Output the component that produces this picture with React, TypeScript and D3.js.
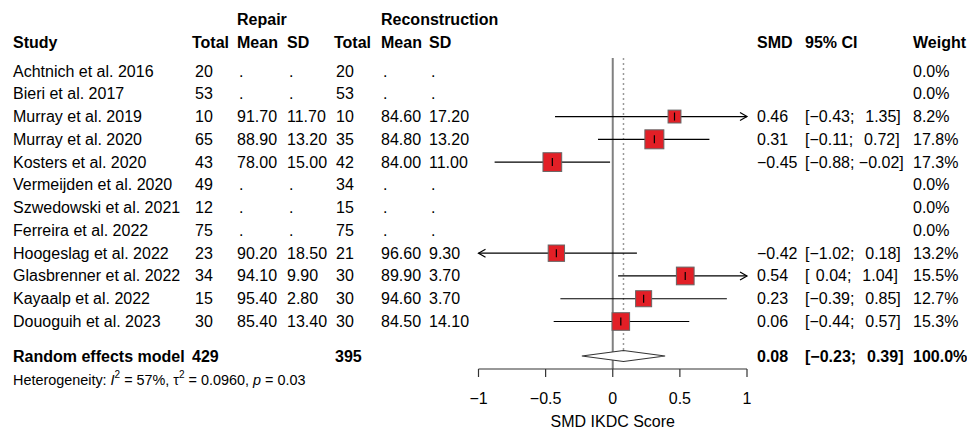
import * as d3 from "d3";
import React from "react";

// study rows
const studies = [
  "Achtnich et al. 2016",
  "Bieri et al. 2017",
  "Murray et al. 2019",
  "Murray et al. 2020",
  "Kosters et al. 2020",
  "Vermeijden et al. 2020",
  "Szwedowski et al. 2021",
  "Ferreira et al. 2022",
  "Hoogeslag et al. 2022",
  "Glasbrenner et al. 2022",
  "Kayaalp et al. 2022",
  "Douoguih et al. 2023",
];
const repairTotal = [20, 53, 10, 65, 43, 49, 12, 75, 23, 34, 15, 30];
const repairMean = [null, null, 91.7, 88.9, 78.0, null, null, null, 90.2, 94.1, 95.4, 85.4];
const repairSD = [null, null, 11.7, 13.2, 15.0, null, null, null, 18.5, 9.9, 2.8, 13.4];
const reconTotal = [20, 53, 10, 35, 42, 34, 15, 75, 21, 30, 30, 30];
const reconMean = [null, null, 84.6, 84.8, 84.0, null, null, null, 96.6, 89.9, 94.6, 84.5];
const reconSD = [null, null, 17.2, 13.2, 11.0, null, null, null, 9.3, 3.7, 3.7, 14.1];
const smd = [null, null, 0.46, 0.31, -0.45, null, null, null, -0.42, 0.54, 0.23, 0.06];
const ciLow = [null, null, -0.43, -0.11, -0.88, null, null, null, -1.02, 0.04, -0.39, -0.44];
const ciHigh = [null, null, 1.35, 0.72, -0.02, null, null, null, 0.18, 1.04, 0.85, 0.57];
const weight = [0, 0, 8.2, 17.8, 17.3, 0, 0, 0, 13.2, 15.5, 12.7, 15.3];

// pooled
const pooled = { label: "Random effects model", repairN: 429, reconN: 395, est: 0.08, lo: -0.23, hi: 0.39, w: 100.0 };
const axisTicks = [-1, -0.5, 0, 0.5, 1];

const font = "'Liberation Sans', Arial, Helvetica, sans-serif";
const minus = (s: string) => s.replace(/-/g, "\u2212");
const f2 = (v: number | null) => (v == null ? "." : v.toFixed(2));
const pad = (v: number) => (v < 0 ? minus(v.toFixed(2)) : "\u2009\u2009" + v.toFixed(2));
const ci = (lo: number, hi: number) => "[" + pad(lo) + "; " + pad(hi) + "]";

export default function App() {
  const width = 967;
  const height = 430;

  const x = d3.scaleLinear().domain([-1, 1]).range([478.5, 747]);
  const y = d3.scaleLinear().domain([0, 11]).range([71, 321.5]);
  const yPool = 356;
  const axisY = 369;
  const lineTop = 58;

  const col = { study: 13, rT: 195, rM: 237, rS: 287, cT: 336, cM: 381, cS: 429, smd: 757, ci: 805, w: 913 };

  const txt = { fontFamily: font, fontSize: 16, fill: "#000" } as const;

  return (
    <svg width={width} height={height} style={{ position: "absolute", left: 0, top: 0 }}>
      <rect width={width} height={height} fill="#fff" />

      {/* headers */}
      <g {...txt} fontWeight="bold" dominantBaseline="central">
        <text x={col.rM} y={19}>Repair</text>
        <text x={col.cM} y={19}>Reconstruction</text>
        <text x={col.study} y={42}>Study</text>
        <text x={192} y={42}>Total</text>
        <text x={col.rM} y={42}>Mean</text>
        <text x={col.rS} y={42}>SD</text>
        <text x={334} y={42}>Total</text>
        <text x={col.cM} y={42}>Mean</text>
        <text x={col.cS} y={42}>SD</text>
        <text x={col.smd} y={42}>SMD</text>
        <text x={col.ci} y={42}>95% CI</text>
        <text x={col.w} y={42}>Weight</text>
      </g>

      {/* reference lines */}
      <line x1={x(0)} x2={x(0)} y1={lineTop} y2={axisY} stroke="#808080" strokeWidth={2} />
      <line x1={x(pooled.est)} x2={x(pooled.est)} y1={lineTop} y2={yPool - 5.5} stroke="#999" strokeWidth={1.5} strokeDasharray="2,3" />

      {/* rows */}
      {studies.map((s, i) => {
        const yy = y(i);
        const est = smd[i];
        const lo = ciLow[i];
        const hi = ciHigh[i];
        const side = 4.5 * Math.sqrt(weight[i]);
        return (
          <g key={s}>
            <g {...txt} dominantBaseline="central">
              <text x={col.study} y={yy}>{s}</text>
              <text x={col.rT} y={yy}>{repairTotal[i]}</text>
              <text x={col.rM + (repairMean[i] == null ? 2 : 0)} y={yy}>{f2(repairMean[i])}</text>
              <text x={col.rS + (repairSD[i] == null ? 2 : 0)} y={yy}>{f2(repairSD[i])}</text>
              <text x={col.cT} y={yy}>{reconTotal[i]}</text>
              <text x={col.cM + (reconMean[i] == null ? 2 : 0)} y={yy}>{f2(reconMean[i])}</text>
              <text x={col.cS + (reconSD[i] == null ? 2 : 0)} y={yy}>{f2(reconSD[i])}</text>
              {est != null && <text x={col.smd} y={yy}>{minus(est.toFixed(2))}</text>}
              {lo != null && hi != null && <text x={col.ci} y={yy} xmlSpace="preserve">{ci(lo, hi)}</text>}
              <text x={col.w} y={yy}>{weight[i].toFixed(1) + "%"}</text>
            </g>
            {est != null && lo != null && hi != null && (
              <g>
                <line x1={x(Math.max(lo, -1))} x2={x(Math.min(hi, 1))} y1={yy} y2={yy} stroke="#000" strokeWidth={1.2} />
                {hi > 1 && (
                  <path d={`M${x(1) - 7},${yy - 4}L${x(1)},${yy}L${x(1) - 7},${yy + 4}`} fill="none" stroke="#000" strokeWidth={1.2} />
                )}
                {lo < -1 && (
                  <path d={`M${x(-1) + 7},${yy - 4}L${x(-1)},${yy}L${x(-1) + 7},${yy + 4}`} fill="none" stroke="#000" strokeWidth={1.2} />
                )}
                <rect x={x(est) - side / 2} y={yy - side / 2} width={side} height={side} fill="#e21f26" stroke="#666" strokeWidth={1} />
                <line x1={x(est)} x2={x(est)} y1={yy - 4} y2={yy + 4} stroke="#000" strokeWidth={1.2} />
              </g>
            )}
          </g>
        );
      })}

      {/* pooled */}
      <g {...txt} fontWeight="bold" dominantBaseline="central">
        <text x={col.study} y={yPool}>{pooled.label}</text>
        <text x={192} y={yPool}>{pooled.repairN}</text>
        <text x={col.cT - 1} y={yPool}>{pooled.reconN}</text>
        <text x={col.smd} y={yPool}>{pooled.est.toFixed(2)}</text>
        <text x={col.ci} y={yPool} xmlSpace="preserve">{ci(pooled.lo, pooled.hi)}</text>
        <text x={col.w} y={yPool}>{pooled.w.toFixed(1) + "%"}</text>
      </g>
      <path
        d={`M${x(pooled.lo)},${yPool}L${x(pooled.est)},${yPool - 5.5}L${x(pooled.hi)},${yPool}L${x(pooled.est)},${yPool + 5.5}Z`}
        fill="#fff"
        stroke="#333"
        strokeWidth={1.2}
      />

      <text x={col.study} y={380} fontFamily={font} fontSize={14.4} dominantBaseline="central">
        Heterogeneity: <tspan fontStyle="italic">I</tspan>
        <tspan fontSize={10} dy={-6}>2</tspan>
        <tspan dy={6}> = 57%, τ</tspan>
        <tspan fontSize={10} dy={-6}>2</tspan>
        <tspan dy={6}> = 0.0960, </tspan>
        <tspan fontStyle="italic">p</tspan> = 0.03
      </text>

      {/* axis */}
      <g stroke="#333" strokeWidth={1.2}>
        <line x1={x(-1)} x2={x(1)} y1={axisY} y2={axisY} />
        {axisTicks.map((t) => (
          <line key={t} x1={x(t)} x2={x(t)} y1={axisY} y2={axisY + 8} />
        ))}
      </g>
      <g {...txt} textAnchor="middle" dominantBaseline="central">
        {axisTicks.map((t) => (
          <text key={t} x={x(t)} y={398}>{minus(String(t))}</text>
        ))}
        <text x={x(0)} y={421}>SMD IKDC Score</text>
      </g>
    </svg>
  );
}
